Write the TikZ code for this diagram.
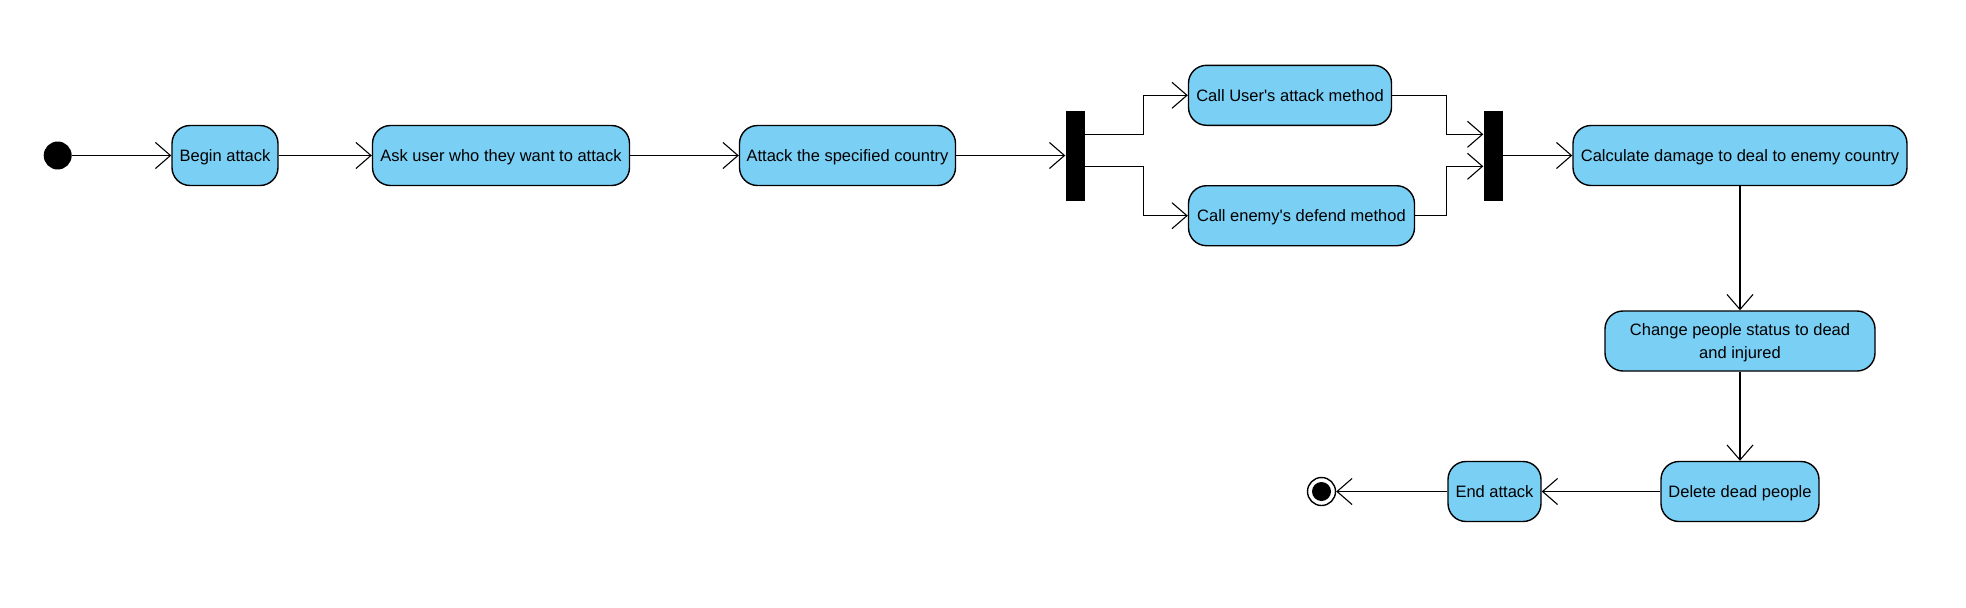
\documentclass[tikz,border=0pt]{standalone}
\usepackage{fontspec}
\setmainfont{Liberation Sans}
\usetikzlibrary{arrows.meta, positioning}
\definecolor{actblue}{RGB}{122,207,245}

\tikzset{
	action/.style={draw, line width=1.4pt, fill=actblue, rounded corners=18pt,
		minimum height=60pt, inner sep=3pt, align=center, text depth=0pt,
		font=\fontsize{16.5}{22.5}\selectfont},
	syncbar/.style={fill=black, minimum width=19pt, minimum height=90pt, inner sep=0pt},
	flow/.style={line width=1.1pt, -{Straight Barb[length=15pt,width=26pt,line width=1.1pt]}},
}

\begin{document}
\begin{tikzpicture}[x=1pt, y=-1pt]
	\useasboundingbox (0,0) rectangle (1966,608);
	% Start and first actions
	\node[circle, fill=black, minimum size=28pt, inner sep=0pt] (start) at (57.7,155.5) {};
	\node[action, minimum width=106pt] (begin) at (225,155.5) {Begin attack};
	\node[action, minimum width=257pt] (ask) at (501,155.5) {Ask user who they want to attack};
	\node[action, minimum width=216pt] (attack) at (847.5,155.5) {Attack the specified country};
	% Fork
	\node[syncbar] (fork) at (1075,155.5) {};
	\node[action, minimum width=203pt] (callu) at (1290,95.3) {Call User\textquotesingle s attack method};
	\node[action, minimum width=226pt] (calle) at (1301.5,215.7) {Call enemy\textquotesingle s defend method};
	% Join
	\node[syncbar] (join) at (1493,155.5) {};
	\node[action, minimum width=334pt] (calc) at (1740,155.5) {Calculate damage to deal to enemy country};
	\node[action, minimum width=270pt] (change) at (1740,341) {Change people status to dead\\and injured};
	\node[action, minimum width=158pt] (delete) at (1740,491.5) {Delete dead people};
	\node[action, minimum width=93pt] (endat) at (1494.5,491.5) {End attack};
	% Final node
	\node[circle, draw, line width=1.4pt, minimum size=28pt, inner sep=0pt,
		path picture={\fill (path picture bounding box.center) circle (9.5pt);}] (final) at (1321.5,491.5) {};

	% Flows
	\draw[flow] (start) -- (begin);
	\draw[flow] (begin) -- (ask);
	\draw[flow] (ask) -- (attack);
	\draw[flow] (attack) -- (fork);
	\draw[flow] ([yshift=-24pt]fork.north east) -- ++(59,0) |- (callu);
	\draw[flow] ([yshift=-56pt]fork.north east) -- ++(59,0) |- (calle);
	\coordinate (j1) at ([yshift=-24pt]join.north west);
	\coordinate (j2) at ([yshift=-56pt]join.north west);
	\draw[flow] (callu.east) -- ++(54,0) |- (j1);
	\draw[flow] (calle.east) -- ++(31,0) |- (j2);
	\draw[flow] (join) -- (calc);
	\draw[flow] (calc) -- (change);
	\draw[flow] (change) -- (delete);
	\draw[flow] (delete) -- (endat);
	\draw[flow] (endat) -- (final);
\end{tikzpicture}
\end{document}
